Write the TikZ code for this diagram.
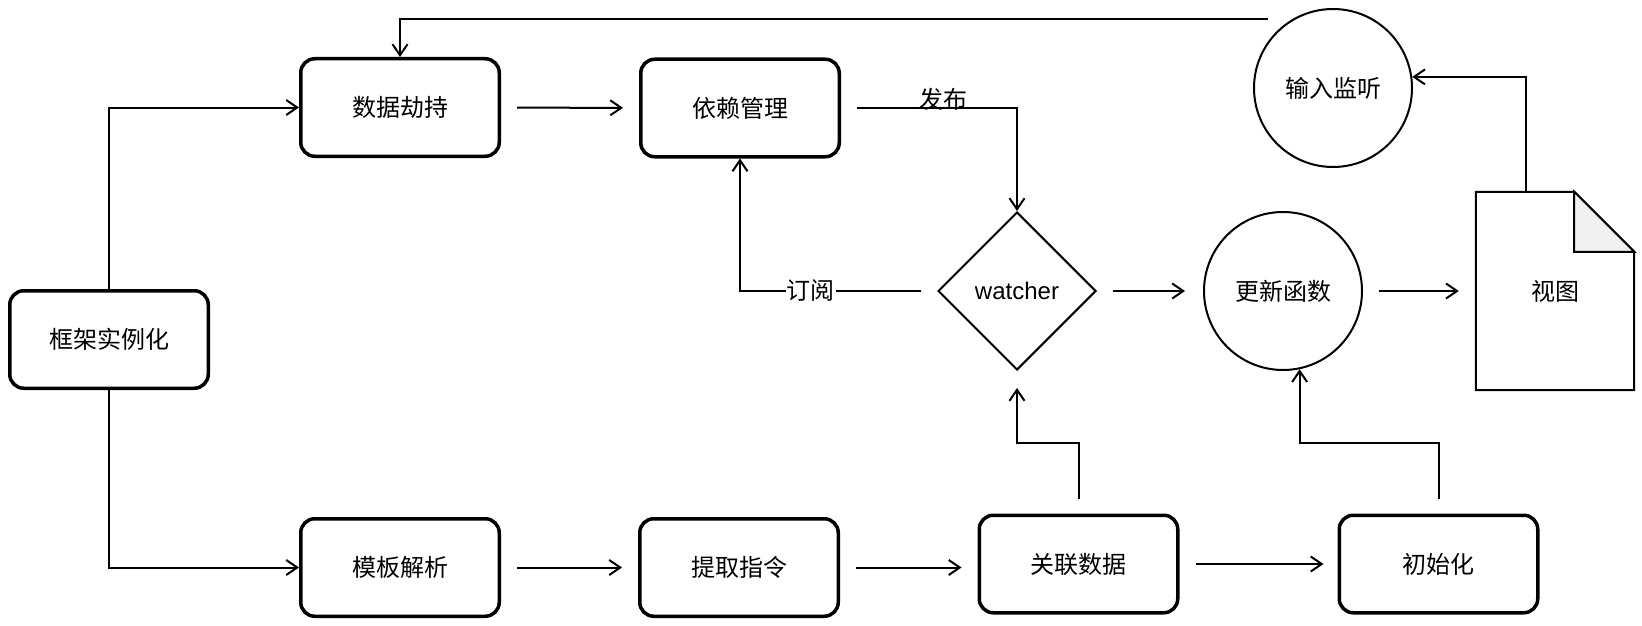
\documentclass[tikz,border=0pt]{standalone}
\usepackage{fontspec}
\setmainfont{Noto Sans CJK SC}
\newfontfamily\latfont{Liberation Sans}
\usetikzlibrary{arrows.meta,shapes.geometric}
\definecolor{foldgray}{HTML}{F0F0F0}
\begin{document}
\begin{tikzpicture}[x=1pt,y=1pt,
  every node/.style={font=\fontsize{24pt}{28pt}\selectfont},
  box/.style={draw, line width=3.5pt, rounded corners=14pt, minimum width=198.5pt, minimum height=97.5pt, inner sep=0pt},
  dia/.style={draw, diamond, aspect=1, line width=2pt, minimum size=158pt, inner sep=0pt},
  circ/.style={draw, circle, line width=2pt, minimum size=158pt, inner sep=0pt},
  arr/.style={line width=2pt, -{Straight Barb[length=11pt,width=15pt,line width=2pt]}},
  lab/.style={fill=white, inner sep=1pt}]
\useasboundingbox (0,0) rectangle (1642,-626);
% nodes
\node[box] (fw) at (109,-339.5) {框架实例化};
\node[box] (dh) at (400,-107.5) {数据劫持};
\node[box] (yl) at (740,-108) {依赖管理};
\node[box] (mb) at (400,-567.5) {模板解析};
\node[box] (tq) at (739,-567.5) {提取指令};
\node[box] (gl) at (1078.5,-564) {关联数据};
\node[box] (csh) at (1438.5,-564) {初始化};
\node[dia] (w) at (1017,-291) {\latfont watcher};
\node[circ] (gx) at (1283,-291) {更新函数};
\node[circ] (sr) at (1333,-88) {输入监听};
\node[minimum width=158pt, minimum height=198pt, inner sep=0pt] (view) at (1555,-291) {视图};
% document outline
\draw[line width=2pt] (view.north west) -- ([xshift=-60pt]view.north east) -- ([yshift=-60pt]view.north east) -- (view.south east) -- (view.south west) -- cycle;
\draw[line width=2pt, fill=foldgray, line join=miter] ([xshift=-60pt]view.north east) -- ([xshift=-60pt,yshift=-60pt]view.north east) -- ([yshift=-60pt]view.north east) -- cycle;
% connectors
\draw[arr] (fw.north) |- (dh.west);
\draw[arr] (fw.south) |- (mb.west);
\draw[arr, shorten <=16pt, shorten >=16pt] (dh) -- (yl);
\draw[arr, shorten <=16pt] (yl.east) -| node[pos=0.29, yshift=9pt, inner sep=0pt] {发布} (w.north);
\draw[arr, shorten <=16pt] (w.west) -| node[pos=0.32, lab] {订阅} (yl.south);
\draw[arr, shorten <=16pt, shorten >=18pt] (w.east) -- (gx.west);
\draw[arr, shorten <=16pt, shorten >=17pt] (gx.east) -- (gx.east -| view.west);
\draw[arr] ([xshift=50pt]view.north west) |- (sr.8);
\draw[arr, shorten <=25pt] (sr.120) -| (dh.north);
\draw[arr, shorten <=16pt, shorten >=16pt] (mb) -- (tq);
\draw[arr, shorten <=16pt, shorten >=16pt] (tq.east) -- (tq.east -| gl.west);
\draw[arr, shorten <=16pt, shorten >=14pt] (gl) -- (csh);
\draw[arr, shorten <=15pt, shorten >=17pt] (gl.north) -- (gl.north |- 0,-443) -| (w.south);
\draw[arr, shorten <=15pt] (csh.north) -- (csh.north |- 0,-443) -| (gx.-78.5);
\end{tikzpicture}
\end{document}
